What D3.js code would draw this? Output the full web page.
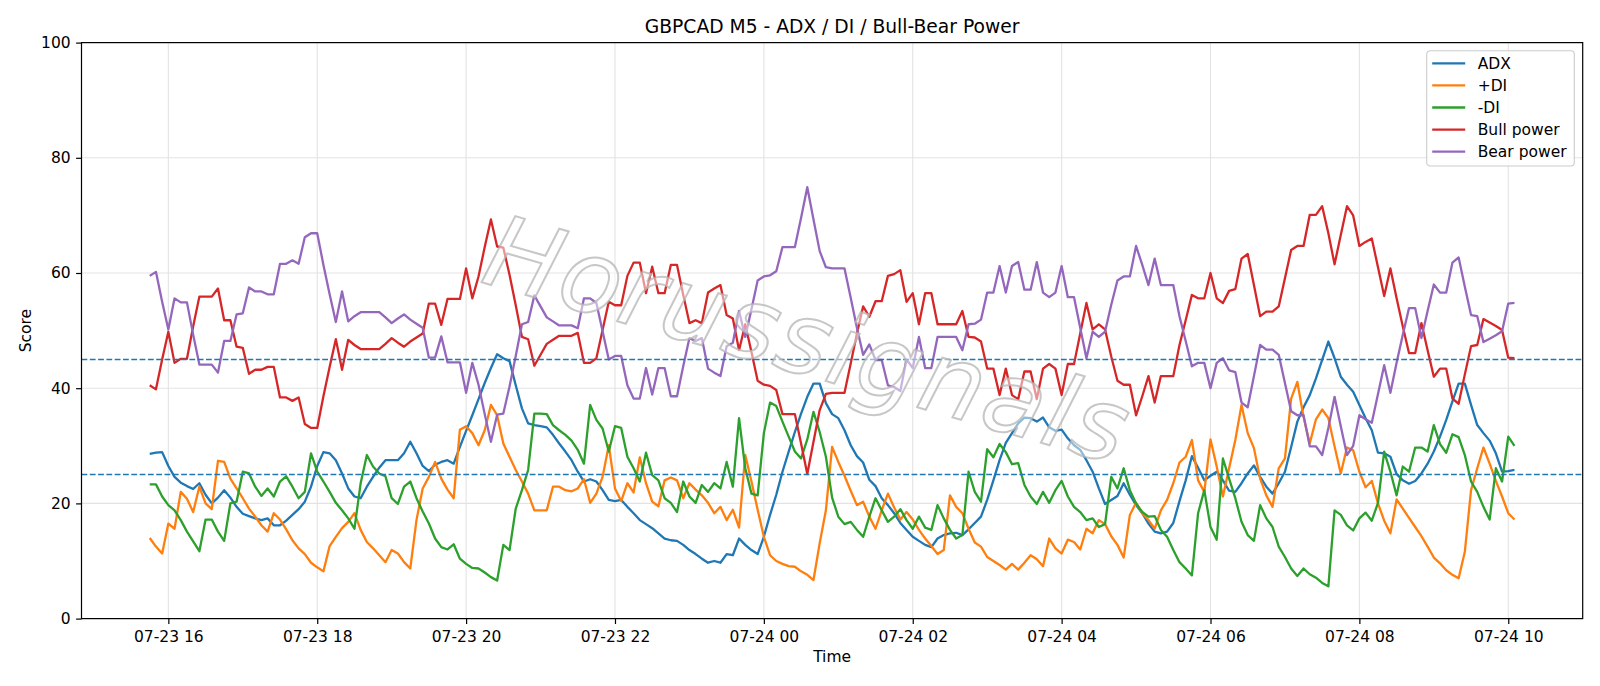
<!DOCTYPE html>
<html lang="en">
<head>
  <meta charset="UTF-8">
  <title>GBPCAD M5 - ADX / DI / Bull-Bear Power</title>
  <script src="https://d3js.org/d3.v7.min.js"></script>
  <style>
    body { margin: 0; background: #fff; }
    svg { display: block; font-family: "DejaVu Sans", sans-serif; }
  </style>
</head>
<body>
<svg id="chart"></svg>
<script>
  // 5-minute bars, first bar 07-23 15:45
  const startTime = new Date(2024, 6, 23, 15, 45);
  const stepMinutes = 5;

  const adx = [
    28.6, 28.8, 28.9, 26.5, 24.6, 23.6, 23.0, 22.5, 23.5, 21.5,
    20.0, 21.0, 22.3, 21.0, 19.4, 18.2, 17.8, 17.4, 17.1, 17.4,
    16.2, 16.2, 17.0, 18.0, 19.0, 20.3, 22.9, 26.5, 28.9, 28.7,
    27.5, 25.2, 22.6, 21.2, 20.9, 22.9, 24.6, 26.2, 27.5, 27.5,
    27.5, 28.7, 30.7, 28.7, 26.5, 25.6, 26.7, 27.2, 27.5, 26.9,
    29.8, 32.6, 35.3, 38.1, 40.9, 43.5, 45.9, 45.2, 44.7, 40.5,
    36.5, 33.9, 33.6, 33.4, 33.2, 31.9, 30.4, 29.0, 27.5, 25.5,
    23.8, 24.2, 23.8, 22.3, 20.6, 20.4, 20.6, 19.4, 18.3, 17.1,
    16.4, 15.7, 14.8, 13.9, 13.6, 13.5, 12.8, 11.9, 11.2, 10.4,
    9.7, 10.0, 9.7, 11.2, 11.0, 13.9, 12.8, 11.9, 11.2, 14.2,
    18.0, 21.5, 25.5, 29.0, 32.4, 35.6, 38.5, 40.8, 40.8, 37.4,
    35.5, 34.8, 32.7, 30.1, 28.2, 27.1, 24.1, 23.0, 20.9, 19.7,
    18.3, 16.6, 15.4, 14.2, 13.5, 12.8, 12.4, 13.9, 14.5, 14.8,
    14.9, 14.5, 15.5, 16.6, 17.7, 20.6, 24.0, 27.5, 30.5, 32.2,
    33.9, 34.9, 34.8, 34.2, 34.9, 33.2, 32.6, 32.8, 31.3, 30.1,
    29.3, 27.5, 25.5, 22.6, 19.9, 20.6, 21.3, 23.5, 21.5, 19.7,
    18.3, 16.5, 15.1, 14.8, 15.1, 16.6, 20.4, 24.0, 28.2, 26.2,
    24.0, 24.8, 25.5, 24.0, 22.2, 22.0, 23.5, 25.2, 26.6, 24.6,
    22.9, 21.7, 23.5, 25.5, 29.8, 34.2, 36.7, 38.8, 41.7, 44.9,
    48.1, 45.2, 42.0, 40.6, 39.4, 37.1, 34.8, 32.7, 28.8, 28.7,
    28.1, 25.1, 24.0, 23.4, 23.9, 25.2, 26.9, 29.0, 31.6, 34.5,
    37.7, 40.8, 40.8, 37.1, 33.6, 32.2, 30.9, 28.7, 25.5, 25.6,
    25.8
  ];

  const plusDi = [
    14.0, 12.5, 11.3, 16.5, 15.6, 22.0, 20.8, 18.5, 22.9, 20.0,
    19.0, 27.4, 27.2, 24.3, 22.6, 20.9, 19.1, 17.7, 16.2, 15.1,
    18.3, 17.2, 15.5, 13.6, 12.2, 11.2, 9.7, 8.9, 8.2, 12.6,
    14.2, 15.7, 16.8, 18.3, 15.4, 13.3, 12.2, 11.0, 9.8, 11.9,
    11.3, 9.8, 8.7, 17.1, 22.6, 24.6, 27.2, 24.3, 22.4, 20.9,
    32.8, 33.4, 32.2, 30.1, 32.7, 37.1, 35.3, 30.4, 28.1, 25.8,
    23.8, 21.7, 18.8, 18.8, 18.8, 22.9, 22.9, 22.3, 22.1, 22.6,
    24.2, 20.1, 21.7, 24.6, 30.1, 22.6, 20.4, 23.5, 21.9, 28.0,
    23.5, 20.3, 19.5, 24.0, 24.5, 24.0, 20.9, 23.5, 22.4, 21.4,
    20.1, 18.3, 19.4, 17.1, 18.9, 15.8, 28.4, 23.8, 18.9, 14.2,
    11.0, 10.0, 9.5, 9.1, 9.0, 8.2, 7.6, 6.7, 13.1, 18.8,
    29.8, 27.2, 24.8, 22.2, 19.7, 20.3, 17.7, 15.6, 18.8, 21.7,
    19.3, 17.2, 18.5, 17.2, 15.4, 13.9, 12.6, 11.2, 11.9, 21.4,
    19.4, 18.3, 15.6, 13.2, 12.5, 10.7, 10.0, 9.3, 8.5, 9.5,
    8.5, 9.7, 11.0, 10.3, 9.1, 13.9, 12.2, 11.3, 13.7, 13.3,
    12.0, 15.6, 14.8, 17.1, 16.4, 14.3, 12.8, 10.6, 18.0, 20.1,
    18.3, 17.1, 15.6, 18.8, 20.6, 23.5, 27.1, 28.1, 31.0, 24.0,
    22.0, 31.1, 26.4, 21.2, 26.1, 31.0, 37.1, 32.2, 29.6, 24.3,
    21.4, 19.4, 26.1, 27.8, 38.2, 41.1, 35.0, 30.4, 34.6, 36.3,
    34.8, 29.9, 25.2, 29.7, 29.2, 25.5, 22.8, 23.9, 20.0, 17.0,
    14.8, 20.7, 19.1, 17.5, 15.9, 14.3, 12.5, 10.6, 9.6, 8.4,
    7.6, 7.0, 11.6, 22.3, 26.1, 29.7, 26.9, 23.9, 21.2, 18.3,
    17.2
  ];

  const minusDi = [
    23.3, 23.3, 21.2, 19.7, 18.8, 17.1, 15.1, 13.4, 11.7, 17.2,
    17.2, 15.1, 13.5, 20.0, 20.3, 25.5, 25.2, 22.9, 21.3, 22.6,
    21.2, 23.8, 24.7, 22.9, 20.9, 22.0, 28.7, 25.5, 23.8, 22.0,
    20.1, 18.8, 17.4, 15.6, 23.5, 28.4, 26.4, 25.2, 24.7, 20.9,
    19.9, 22.9, 23.8, 20.9, 18.6, 16.5, 13.9, 12.4, 12.0, 12.9,
    10.4, 9.5, 8.8, 8.7, 8.0, 7.2, 6.6, 12.8, 11.9, 19.1,
    22.3, 25.8, 35.6, 35.6, 35.5, 33.6, 32.7, 31.9, 30.9, 29.3,
    26.9, 37.1, 34.5, 33.0, 29.0, 33.4, 33.1, 28.1, 26.1, 23.8,
    28.8, 24.9, 24.0, 20.9, 20.1, 18.5, 23.8, 21.2, 20.1, 23.2,
    22.0, 23.5, 22.6, 27.2, 22.9, 34.8, 26.1, 21.7, 21.4, 32.2,
    37.5, 36.9, 34.2, 31.6, 29.0, 27.8, 31.1, 35.9, 32.4, 28.1,
    21.0, 17.7, 16.4, 16.8, 15.4, 14.2, 17.7, 20.9, 18.8, 16.8,
    17.7, 19.0, 17.1, 15.6, 17.7, 15.8, 15.4, 19.7, 17.4, 15.4,
    13.9, 14.5, 25.5, 22.0, 20.3, 29.4, 28.0, 30.3, 28.9, 26.8,
    27.0, 23.2, 21.2, 19.9, 22.0, 20.1, 22.3, 23.9, 21.2, 19.4,
    18.5, 17.1, 17.4, 15.9, 16.4, 24.6, 22.6, 26.1, 22.3, 20.0,
    18.5, 17.7, 17.8, 15.4, 14.2, 11.9, 9.8, 8.7, 7.5, 18.3,
    22.3, 15.9, 13.7, 27.8, 24.3, 20.9, 16.8, 14.5, 13.5, 19.7,
    17.4, 15.9, 12.5, 10.7, 8.7, 7.4, 8.7, 7.7, 7.1, 6.2,
    5.6, 18.8, 18.0, 16.2, 15.3, 17.4, 18.4, 17.0, 20.1, 29.0,
    25.5, 21.4, 26.4, 25.5, 29.7, 29.7, 29.0, 33.6, 30.3, 28.8,
    32.0, 31.5, 28.4, 23.8, 22.0, 19.4, 17.2, 26.1, 23.8, 31.6,
    30.0
  ];

  const bullPower = [
    40.5, 39.8, 45.0, 49.8, 44.4, 45.1, 45.1, 50.7, 55.9, 55.9,
    55.9, 57.3, 51.8, 51.8, 47.2, 47.0, 42.5, 43.2, 43.2, 43.7,
    43.7, 38.4, 38.4, 37.8, 38.4, 33.8, 33.1, 33.1, 38.6, 43.7,
    48.5, 43.2, 48.4, 47.5, 46.8, 46.8, 46.8, 46.8, 47.7, 48.7,
    47.9, 47.2, 48.1, 48.8, 49.5, 54.7, 54.7, 51.0, 55.5, 55.5,
    55.5, 60.8, 55.6, 59.4, 64.5, 69.3, 64.6, 64.4, 59.7, 54.4,
    48.9, 48.5, 43.9, 45.8, 47.7, 48.4, 49.1, 49.1, 49.1, 49.6,
    44.4, 44.4, 45.2, 50.1, 55.0, 54.4, 54.4, 59.5, 61.8, 61.8,
    56.5, 61.1, 56.5, 56.5, 61.4, 61.4, 56.2, 51.3, 51.8, 51.3,
    56.6, 57.3, 57.9, 52.7, 52.1, 46.6, 51.1, 46.3, 41.3, 40.6,
    40.4, 39.7, 35.5, 35.5, 35.5, 30.4, 25.1, 30.7, 36.2, 39.0,
    39.2, 39.2, 39.2, 44.3, 49.5, 54.2, 52.4, 55.1, 55.1, 59.5,
    59.8, 60.5, 55.0, 56.5, 51.1, 56.5, 56.5, 51.1, 51.1, 51.1,
    51.1, 53.4, 48.9, 48.8, 48.1, 43.4, 43.4, 38.8, 43.4, 38.8,
    38.1, 42.9, 42.9, 38.1, 43.4, 44.2, 43.4, 38.8, 44.2, 44.2,
    49.5, 54.8, 50.2, 51.1, 50.2, 45.5, 41.3, 40.6, 40.6, 35.3,
    38.6, 42.1, 37.5, 42.1, 42.1, 42.1, 47.5, 51.8, 56.2, 55.6,
    55.6, 60.0, 55.6, 54.8, 56.9, 57.2, 62.5, 63.3, 57.9, 52.5,
    53.3, 53.3, 54.2, 59.1, 64.0, 64.7, 64.7, 70.1, 70.1, 71.6,
    66.9, 61.5, 66.6, 71.6, 70.0, 64.7, 65.4, 66.0, 61.0, 56.0,
    60.8, 55.6, 50.7, 46.1, 46.1, 51.3, 46.6, 42.0, 43.4, 43.4,
    38.2, 37.3, 42.4, 47.3, 47.5, 52.0, 51.4, 50.8, 50.1, 45.3,
    45.2
  ];

  const bearPower = [
    59.5, 60.2, 55.0, 50.2, 55.6, 54.9, 54.9, 49.3, 44.1, 44.1,
    44.1, 42.7, 48.2, 48.2, 52.8, 53.0, 57.5, 56.8, 56.8, 56.3,
    56.3, 61.6, 61.6, 62.2, 61.6, 66.2, 66.9, 66.9, 61.4, 56.3,
    51.5, 56.8, 51.6, 52.5, 53.2, 53.2, 53.2, 53.2, 52.3, 51.3,
    52.1, 52.8, 51.9, 51.2, 50.5, 45.3, 45.3, 49.0, 44.5, 44.5,
    44.5, 39.2, 44.4, 40.6, 35.5, 30.7, 35.4, 35.6, 40.3, 45.6,
    51.1, 51.5, 56.1, 54.2, 52.3, 51.6, 50.9, 50.9, 50.9, 50.4,
    55.6, 55.6, 54.8, 49.9, 45.0, 45.6, 45.6, 40.5, 38.2, 38.2,
    43.5, 38.9, 43.5, 43.5, 38.6, 38.6, 43.8, 48.7, 48.2, 48.7,
    43.4, 42.7, 42.1, 47.3, 47.9, 53.4, 48.9, 53.7, 58.7, 59.4,
    59.6, 60.3, 64.5, 64.5, 64.5, 69.6, 74.9, 69.3, 63.8, 61.0,
    60.8, 60.8, 60.8, 55.7, 50.5, 45.8, 47.6, 44.9, 44.9, 40.5,
    40.2, 39.5, 45.0, 43.5, 48.9, 43.5, 43.5, 48.9, 48.9, 48.9,
    48.9, 46.6, 51.1, 51.2, 51.9, 56.6, 56.6, 61.2, 56.6, 61.2,
    61.9, 57.1, 57.1, 61.9, 56.6, 55.8, 56.6, 61.2, 55.8, 55.8,
    50.5, 45.2, 49.8, 48.9, 49.8, 54.5, 58.7, 59.4, 59.4, 64.7,
    61.4, 57.9, 62.5, 57.9, 57.9, 57.9, 52.5, 48.2, 43.8, 44.4,
    44.4, 40.0, 44.4, 45.2, 43.1, 42.8, 37.5, 36.7, 42.1, 47.5,
    46.7, 46.7, 45.8, 40.9, 36.0, 35.3, 35.3, 29.9, 29.9, 28.4,
    33.1, 38.5, 33.4, 28.4, 30.0, 35.3, 34.6, 34.0, 39.0, 44.0,
    39.2, 44.4, 49.3, 53.9, 53.9, 48.7, 53.4, 58.0, 56.6, 56.6,
    61.8, 62.7, 57.6, 52.7, 52.5, 48.0, 48.6, 49.2, 49.9, 54.7,
    54.8
  ];

  const seriesNames = ["ADX", "+DI", "-DI", "Bull power", "Bear power"];
  const seriesValues = [adx, plusDi, minusDi, bullPower, bearPower];
  const seriesColors = ["#1f77b4", "#ff7f0e", "#2ca02c", "#d62728", "#9467bd"];
  const levels = [45, 25];
  const yTicks = [0, 20, 40, 60, 80, 100];

  const width = 1600;
  const height = 686;
  const margin = {top: 42.6, right: 17.3, bottom: 67.4, left: 81.5};
  const plotW = width - margin.left - margin.right;
  const plotH = height - margin.top - margin.bottom;

  const times = adx.map((d, i) => d3.timeMinute.offset(startTime, i * stepMinutes));

  const svg = d3.select("#chart")
    .attr("width", width)
    .attr("height", height);

  // matplotlib style 5% x margin
  const [t0, t1] = d3.extent(times);
  const pad = (t1 - t0) * 0.05;
  const x = d3.scaleTime()
    .domain([new Date(+t0 - pad), new Date(+t1 + pad)])
    .range([margin.left, margin.left + plotW]);

  const y = d3.scaleLinear()
    .domain([0, 100])
    .range([margin.top + plotH, margin.top]);

  const xTicks = x.ticks(d3.timeHour.every(2));

  // grid
  const grid = svg.append("g").attr("stroke", "#e3e3e3").attr("stroke-width", 1.1);
  grid.selectAll(".gx")
    .data(xTicks)
    .join("line")
    .attr("x1", d => x(d)).attr("x2", d => x(d))
    .attr("y1", margin.top).attr("y2", margin.top + plotH);
  grid.selectAll(".gy")
    .data(yTicks)
    .join("line")
    .attr("x1", margin.left).attr("x2", margin.left + plotW)
    .attr("y1", d => y(d)).attr("y2", d => y(d));

  // series
  const line = d3.line()
    .x((d, i) => x(times[i]))
    .y(d => y(d));

  svg.append("g")
    .selectAll("path")
    .data(seriesValues)
    .join("path")
    .attr("d", d => line(d))
    .attr("fill", "none")
    .attr("stroke", (d, i) => seriesColors[i])
    .attr("stroke-width", 2.3)
    .attr("stroke-linejoin", "round");

  // threshold lines
  svg.append("g")
    .selectAll("line")
    .data(levels)
    .join("line")
    .attr("x1", margin.left).attr("x2", margin.left + plotW)
    .attr("y1", d => y(d)).attr("y2", d => y(d))
    .attr("stroke", "#1f77b4")
    .attr("stroke-width", 1.5)
    .attr("stroke-dasharray", "5.8,2.5");

  // watermark
  svg.append("text")
    .attr("transform", "translate(808,340) rotate(16)")
    .attr("text-anchor", "middle")
    .attr("dominant-baseline", "central")
    .attr("font-size", 100)
    .attr("font-style", "italic")
    .attr("font-weight", 300)
    .attr("letter-spacing", 2)
    .attr("fill", "#ffffff")
    .attr("fill-opacity", 0.5)
    .attr("stroke", "#b4b4b4")
    .attr("stroke-opacity", 0.75)
    .attr("stroke-width", 2)
    .text("Horussignals");

  // axes
  const xAxis = svg.append("g")
    .attr("transform", `translate(0,${margin.top + plotH})`)
    .call(d3.axisBottom(x)
      .tickValues(xTicks)
      .tickFormat(d3.timeFormat("%m-%d %H"))
      .tickSize(5.4)
      .tickPadding(7)
      .tickSizeOuter(0));

  const yAxis = svg.append("g")
    .attr("transform", `translate(${margin.left},0)`)
    .call(d3.axisLeft(y)
      .tickValues(yTicks)
      .tickSize(5.4)
      .tickPadding(5.4)
      .tickSizeOuter(0));

  [xAxis, yAxis].forEach(g => {
    g.select(".domain").remove();
    g.selectAll(".tick line").attr("stroke", "#000").attr("stroke-width", 1.2);
    g.selectAll(".tick text")
      .attr("fill", "#000")
      .style("font-family", "DejaVu Sans")
      .style("font-size", "15.5px");
  });

  // frame
  svg.append("rect")
    .attr("x", margin.left).attr("y", margin.top)
    .attr("width", plotW).attr("height", plotH)
    .attr("fill", "none")
    .attr("stroke", "#000")
    .attr("stroke-width", 1.2);

  // labels
  svg.append("text")
    .attr("x", margin.left + plotW / 2)
    .attr("y", 33)
    .attr("text-anchor", "middle")
    .attr("font-size", 18.7)
    .text("GBPCAD M5 - ADX / DI / Bull-Bear Power");

  svg.append("text")
    .attr("x", margin.left + plotW / 2)
    .attr("y", 662)
    .attr("text-anchor", "middle")
    .attr("font-size", 15.5)
    .text("Time");

  svg.append("text")
    .attr("transform", `translate(31,${margin.top + plotH / 2}) rotate(-90)`)
    .attr("text-anchor", "middle")
    .attr("font-size", 15.5)
    .text("Score");

  // legend
  const legend = svg.append("g").attr("transform", "translate(1426.7,50.7)");
  legend.append("rect")
    .attr("width", 147.6).attr("height", 115.3)
    .attr("rx", 3.5)
    .attr("fill", "#fff").attr("fill-opacity", 0.8)
    .attr("stroke", "#cccccc").attr("stroke-width", 1.1);

  const rows = legend.selectAll(".row")
    .data(seriesNames)
    .join("g")
    .attr("transform", (d, i) => `translate(0,${12.6 + i * 22.1})`);
  rows.append("line")
    .attr("x1", 5.5).attr("x2", 38.5)
    .attr("stroke", (d, i) => seriesColors[i])
    .attr("stroke-width", 2.3);
  rows.append("text")
    .attr("x", 51)
    .attr("y", 5.6)
    .attr("font-size", 15.5)
    .text(d => d);
</script>
</body>
</html>
